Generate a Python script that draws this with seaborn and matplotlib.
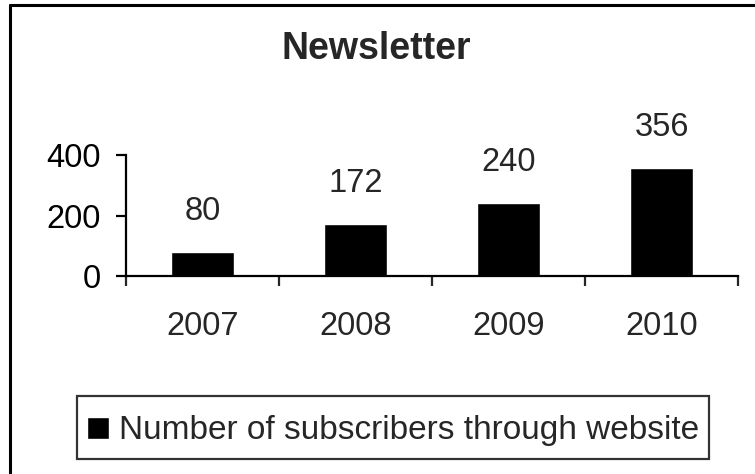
import numpy as np
import pandas as pd
import matplotlib
matplotlib.use("Agg")
import matplotlib.pyplot as plt
import seaborn as sns
from matplotlib.lines import Line2D
from matplotlib.patches import Rectangle
from matplotlib.container import BarContainer
from matplotlib.legend_handler import HandlerPatch, update_from_first_child

# data
years = ["2007", "2008", "2009", "2010"]
subscribers = [80, 172, 240, 356]
series_name = "Number of subscribers through website"
y_ticks = [0, 200, 400]

sns.set_style("ticks")
plt.rcParams['font.family'] = ['Liberation Sans', 'DejaVu Sans']

df = pd.DataFrame({"year": years, "subscribers": subscribers})

fig = plt.figure(figsize=(7.55, 4.74), dpi=100)
ax = fig.add_axes([126 / 755, 1 - 276 / 474, 612 / 755, 121 / 474])

sns.barplot(data=df, x="year", y="subscribers", color="black", width=0.41,
            saturation=1, ax=ax, label=series_name)

# value labels above bars
for i, v in enumerate(subscribers):
    ax.annotate(str(v), (i, v), xytext=(0, 23), textcoords="offset points",
                ha="center", va="baseline", fontsize=23.5, annotation_clip=False)

ax.set_ylim(0, 400)
ax.set_xlim(-0.5, 3.5)
ax.set_yticks(y_ticks)
ax.set_yticklabels([str(t) for t in y_ticks], fontsize=23.5)
ax.tick_params(axis="y", direction="out", length=7.2, width=1.6, pad=11, colors="black")

# ticks between categories, labels in the middle
ax.set_xticks(np.arange(-0.5, 4.0, 1.0))
ax.set_xticklabels([])
ax.set_xticks(range(len(years)), minor=True)
ax.set_xticklabels(years, minor=True, fontsize=23.5)
ax.tick_params(axis="x", which="major", direction="out", length=7.2, width=1.6)
ax.tick_params(axis="x", which="minor", length=0, pad=25)

ax.set_xlabel("")
ax.set_ylabel("")
sns.despine(ax=ax)
for s in ["left", "bottom"]:
    ax.spines[s].set_linewidth(1.6)
    ax.spines[s].set_color("black")
ax.spines["left"].set_bounds(0, 400)

# title
fig.text(376 / 755, 1 - 49 / 474, "Newsletter", ha="center", va="center",
         fontsize=27, fontweight="bold")


# small square legend key
def square_key(legend, orig_handle, xdescent, ydescent, width, height, fontsize):
    s = 16
    return Rectangle((-xdescent + (width - s) / 2, -ydescent + (height - s) / 2), s, s)


handles, labels = ax.get_legend_handles_labels()
leg = fig.legend(handles, labels, loc="upper left", bbox_to_anchor=(77 / 755, 1 - 396 / 474),
                 fontsize=24, frameon=True, fancybox=False, edgecolor="black",
                 handlelength=0.66, handleheight=1.62, handletextpad=0.3,
                 borderpad=0.3, borderaxespad=0,
                 handler_map={BarContainer: HandlerPatch(patch_func=square_key,
                                                         update_func=update_from_first_child)})
leg.get_frame().set_linewidth(1.6)
if ax.get_legend() is not None:
    ax.get_legend().remove()

# outer chart border (only left and top visible)
fig.add_artist(Line2D([10 / 755, 10 / 755], [0, 1 - 5 / 474], color="black", lw=2.2,
                      transform=fig.transFigure))
fig.add_artist(Line2D([10 / 755, 1], [1 - 5 / 474, 1 - 5 / 474], color="black", lw=2.2,
                      transform=fig.transFigure))

fig.savefig("out.png", dpi=100)
